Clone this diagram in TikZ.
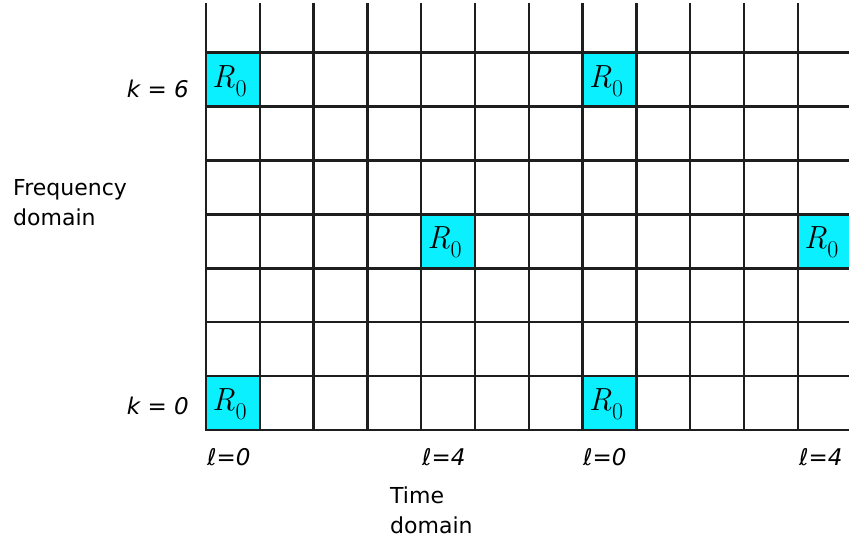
\documentclass[tikz,border=0pt]{standalone}
\usepackage{fontspec}
\newfontfamily\labfont{DejaVu Sans}
\definecolor{cellcyan}{RGB}{10,240,255}
\definecolor{gridline}{RGB}{30,30,30}
\newcommand{\RZero}{\textit{R}\kern0.5pt\raisebox{-9pt}{\fontsize{24}{25}\selectfont 0}}
\tikzset{
  gridln/.style={line width=2.5pt, draw=gridline},
  hitcell/.style={fill=cellcyan, draw=none, minimum width=53.8pt, minimum height=53.9pt, inner sep=0pt, outer sep=0pt},
  rlabel/.style={font=\fontsize{32}{36}\selectfont, inner sep=0pt},
  idxlabel/.style={font=\labfont\itshape\fontsize{23}{27}\selectfont, inner sep=0pt},
  axlabel/.style={font=\labfont\fontsize{22}{30}\selectfont, align=left, inner sep=0pt},
}
\begin{document}
\begin{tikzpicture}[x=1pt,y=-1pt]
\useasboundingbox (0,0) rectangle (849,543);
\clip (0,0) rectangle (849,543);
% highlighted cells (column i, row j counted from the bottom)
\foreach \nm/\i/\j in {a/0/6, b/7/6, c/4/3, d/11/3, e/0/0, f/7/0}{
  \node[hitcell] (cell\nm) at ({206+53.8*\i+26.9},{430-53.9*\j-26.95}) {};
  \node[rlabel, anchor=base west] (r\nm) at ({206+53.8*\i+6},{430-53.9*\j-19.5}) {\RZero};
}
% grid
\foreach \i in {0,...,11}{
  \draw[gridln] ({206+53.8*\i},3) -- ({206+53.8*\i},431.2);
}
\foreach \j in {0,...,7}{
  \draw[gridln] (204.8,{430-53.9*\j}) -- (852,{430-53.9*\j});
}
% labels
\node[idxlabel, anchor=base east] (k6) at (189,97) {k = 6};
\node[idxlabel, anchor=base east] (k0) at (189,414) {k = 0};
\node[idxlabel, anchor=base west] (l0a) at (207,465) {ℓ=0};
\node[idxlabel, anchor=base west] (l4a) at (422,465) {ℓ=4};
\node[idxlabel, anchor=base west] (l0b) at (583,465) {ℓ=0};
\node[idxlabel, anchor=base west] (l4b) at (799,465) {ℓ=4};
\node[axlabel, anchor=base west] (freq) at (13,225) {Frequency\\domain};
\node[axlabel, anchor=base west] (time) at (390,533) {Time\\domain};
\end{tikzpicture}
\end{document}
